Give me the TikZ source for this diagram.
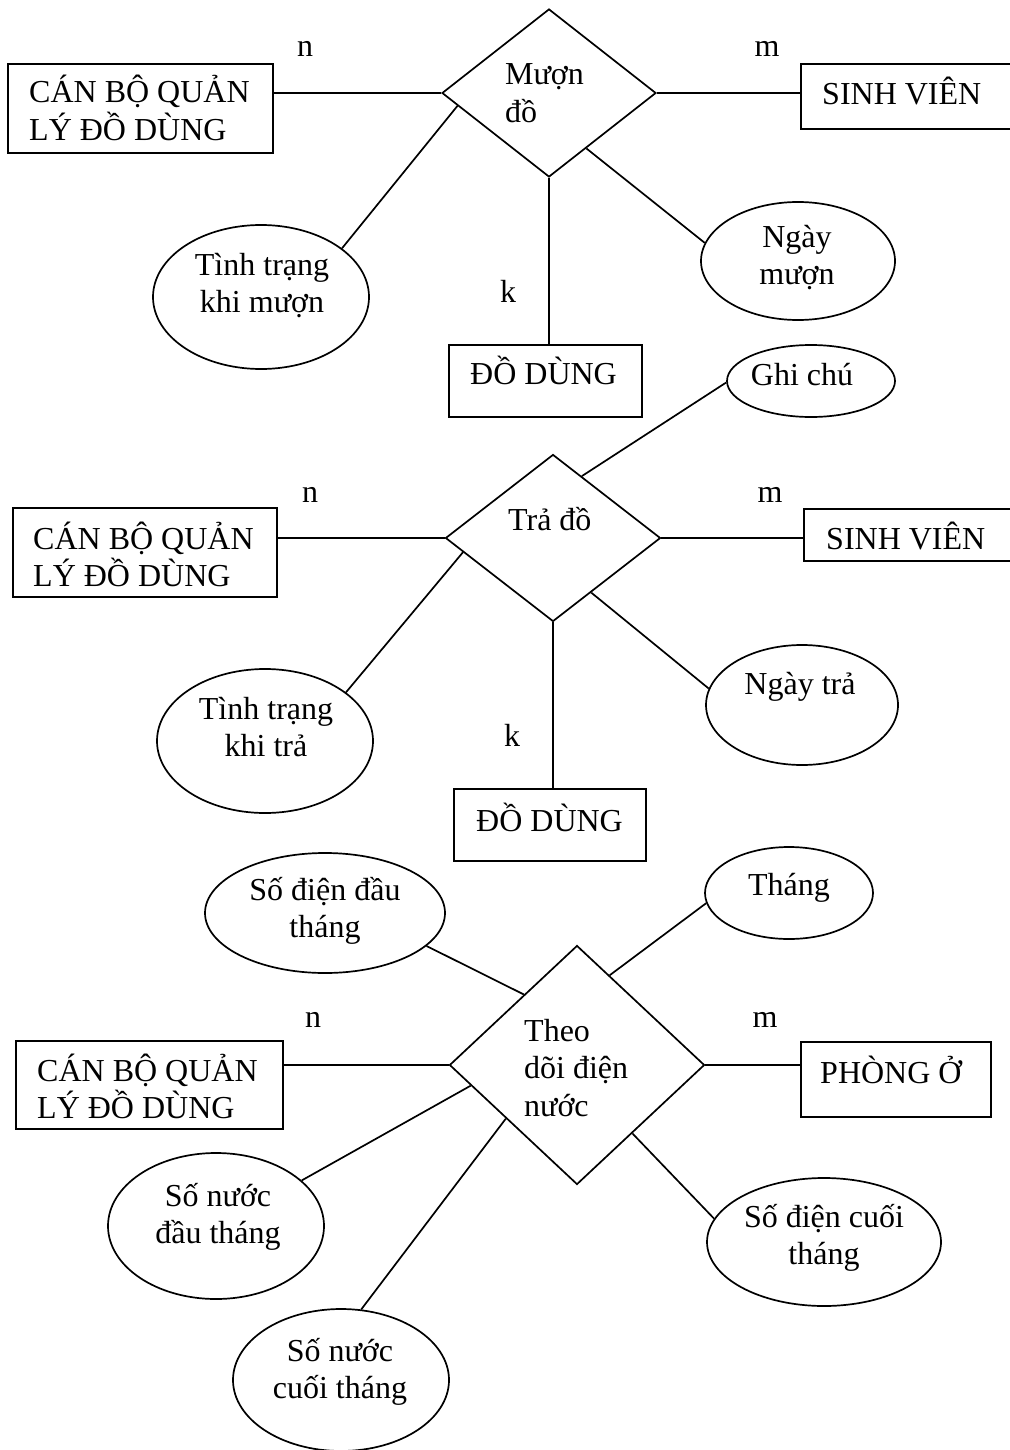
\documentclass[tikz,border=0pt]{standalone}
\usepackage{fontspec}
\setmainfont{Liberation Serif}
\usetikzlibrary{shapes.geometric}
\newcommand{\erfont}{\fontsize{32}{37.5}\selectfont}
\begin{document}
\begin{tikzpicture}[x=1pt,y=-1pt,
  entity/.style={draw, rectangle, line width=2pt, inner sep=0pt},
  relation/.style={draw, diamond, line width=1.7pt, inner sep=0pt},
  attribute/.style={draw, ellipse, line width=1.7pt, inner sep=0pt},
  link/.style={line width=1.7pt},
  txt/.style={inner sep=0pt, font=\erfont},
]
\useasboundingbox (0,0) rectangle (1009,1450);
% multi-line labels are placed by the baseline of their last line

% ---------- Muon do ----------
\node[entity, minimum width=265, minimum height=89] (cb1) at (140.5,108.5) {};
\node[entity, minimum width=210, minimum height=65] (sv1) at (906,96.5) {};
\node[entity, minimum width=193, minimum height=72] (dd1) at (545.5,381) {};
\node[relation, minimum width=214, minimum height=168] (d1) at (549,93) {};
\node[attribute, minimum width=216, minimum height=144] (tinh1) at (261,297) {};
\node[attribute, minimum width=194, minimum height=118] (ngaymuon) at (798,261) {};
\node[attribute, minimum width=168, minimum height=72] (ghichu) at (811,381) {};

\draw[link] (d1.west) -- (d1.west -| cb1.east);
\draw[link] (d1.east) -- (d1.east -| sv1.west);
\draw[link] (d1.south) -- (d1.south |- dd1.north);
\draw[link] (d1.188) -- (tinh1.31);
\draw[link] (d1.304) -- (ngaymuon.169);

\node[txt, anchor=base west, align=left] (cb1t) at (29,140.5) {CÁN BỘ QUẢN\\LÝ ĐỒ DÙNG};
\node[txt, anchor=base] (n1) at (305,57) {n};
\node[txt, anchor=base west, align=left] (d1t) at (505,122.5) {Mượn\\đồ};
\node[txt, anchor=base] (m1) at (767,57) {m};
\node[txt, anchor=base west] (sv1t) at (822,105) {SINH VIÊN};
\node[txt, anchor=base, align=center] (tinh1t) at (262,312.5) {Tình trạng\\khi mượn};
\node[txt, anchor=base] (k1) at (508,302) {k};
\node[txt, anchor=base west] (dd1t) at (470,384) {ĐỒ DÙNG};
\node[txt, anchor=base, align=center] (ngaymuont) at (797,284.5) {Ngày\\mượn};
\node[txt, anchor=base] (ghichut) at (802,385) {Ghi chú};

% ---------- Tra do ----------
\node[entity, minimum width=264, minimum height=89] (cb2) at (145,552.5) {};
\node[entity, minimum width=207, minimum height=52] (sv2) at (907.5,535) {};
\node[entity, minimum width=192, minimum height=72] (dd2) at (550,825) {};
\node[relation, minimum width=215, minimum height=167] (d2) at (553,538) {};
\node[attribute, minimum width=216, minimum height=144] (tinh2) at (265,741) {};
\node[attribute, minimum width=192, minimum height=120] (ngaytra) at (802,705) {};

\draw[link] (d2.west) -- (d2.west -| cb2.east);
\draw[link] (d2.east) -- (d2.east -| sv2.west);
\draw[link] (d2.south) -- (d2.south |- dd2.north);
\draw[link] (ghichu.181) -- (d2.65);
\draw[link] (d2.189) -- (tinh2.31);
\draw[link] (d2.305) -- (ngaytra.170);

\node[txt, anchor=base west, align=left] (cb2t) at (33,586.5) {CÁN BỘ QUẢN\\LÝ ĐỒ DÙNG};
\node[txt, anchor=base] (n2) at (310,502) {n};
\node[txt, anchor=base west] (d2t) at (508,530) {Trả đồ};
\node[txt, anchor=base] (m2) at (770,502) {m};
\node[txt, anchor=base west] (sv2t) at (826,549) {SINH VIÊN};
\node[txt, anchor=base, align=center] (tinh2t) at (266,756.5) {Tình trạng\\khi trả};
\node[txt, anchor=base] (k2) at (512,746) {k};
\node[txt, anchor=base west] (dd2t) at (476,831) {ĐỒ DÙNG};
\node[txt, anchor=base] (ngaytrat) at (800,694) {Ngày trả};

% ---------- Theo doi dien nuoc ----------
\node[attribute, minimum width=240, minimum height=120] (sodiendau) at (325,913) {};
\node[attribute, minimum width=168, minimum height=92] (thang) at (789,893) {};
\node[entity, minimum width=267, minimum height=88] (cb3) at (149.5,1085) {};
\node[relation, minimum width=255, minimum height=239] (d3) at (577,1065) {};
\node[entity, minimum width=190, minimum height=75] (phong) at (896,1079.5) {};
\node[attribute, minimum width=216, minimum height=146] (sonuocdau) at (216,1226) {};
\node[attribute, minimum width=216, minimum height=142] (sonuoccuoi) at (341,1380) {};
\node[attribute, minimum width=234, minimum height=128] (sodiencuoi) at (824,1242) {};

\draw[link] (d3.west) -- (d3.west -| cb3.east);
\draw[link] (d3.east) -- (d3.east -| phong.west);
\draw[link] (sodiendau.342) -- (d3.127);
\draw[link] (thang.187) -- (d3.70);
\draw[link] (d3.191) -- (sonuocdau.28);
\draw[link] (d3.217) -- (sonuoccuoi.74);
\draw[link] (d3.309) -- (sodiencuoi.168);

\node[txt, anchor=base, align=center] (sodiendaut) at (325,937.5) {Số điện đầu\\tháng};
\node[txt, anchor=base] (thangt) at (789,895) {Tháng};
\node[txt, anchor=base] (n3) at (313,1027) {n};
\node[txt, anchor=base] (m3) at (765,1027) {m};
\node[txt, anchor=base west, align=left] (cb3t) at (37,1118.5) {CÁN BỘ QUẢN\\LÝ ĐỒ DÙNG};
\node[txt, anchor=base west, align=left] (d3t) at (524,1116) {Theo\\dõi điện\\nước};
\node[txt, anchor=base west] (phongt) at (820,1083) {PHÒNG Ở};
\node[txt, anchor=base, align=center] (sonuocdaut) at (218,1243.5) {Số nước\\đầu tháng};
\node[txt, anchor=base, align=center] (sonuoccuoit) at (340,1398.5) {Số nước\\cuối tháng};
\node[txt, anchor=base, align=center] (sodiencuoit) at (824,1264.5) {Số điện cuối\\tháng};
\end{tikzpicture}
\end{document}
